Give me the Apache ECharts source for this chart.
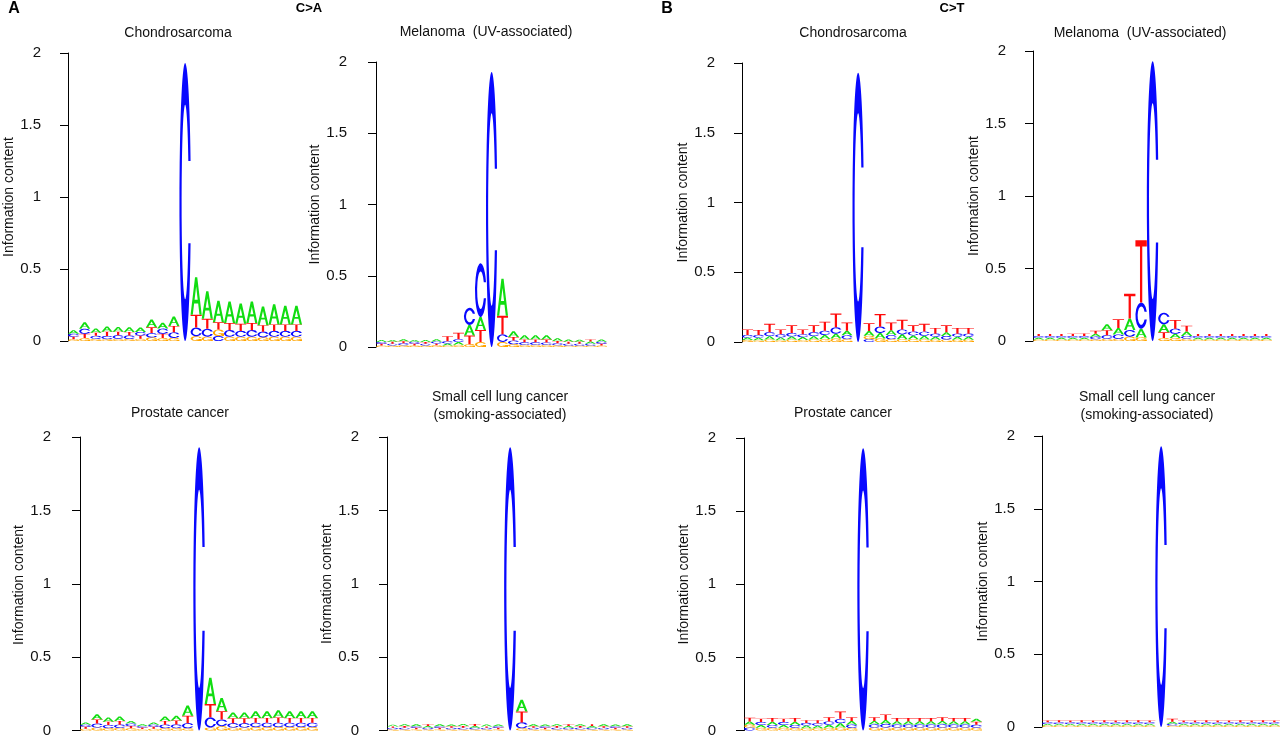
<!DOCTYPE html>
<html>
<head>
<meta charset="UTF-8">
<script src="https://cdn.jsdelivr.net/npm/echarts@6/dist/echarts.min.js"></script>
<style>
  html, body { margin: 0; padding: 0; background: #fff; }
  #main { width: 1280px; height: 738px; }
</style>
</head>
<body>
<div id="main"></div>
<script>
// sequence positions (-10 .. +10, the mutated C is position 11)
var positions = [1, 2, 3, 4, 5, 6, 7, 8, 9, 10, 11, 12, 13, 14, 15, 16, 17, 18, 19, 20, 21];
var yTicks = [0, 0.5, 1, 1.5, 2];

// ---- C>A : Chondrosarcoma (bits per base)
var chondroCA_A = [0.025,0.045,0.028,0.035,0.033,0.032,0.03,0.055,0.04,0.065, 0, 0.26,0.19,0.15,0.15,0.14,0.15,0.13,0.14,0.13,0.13];
var chondroCA_C = [0.02,0.035,0.022,0.022,0.025,0.024,0.026,0.03,0.036,0.038, 1.93, 0.06,0.055,0.035,0.045,0.04,0.045,0.04,0.04,0.04,0.04];
var chondroCA_G = [0.012,0.02,0.014,0.013,0.015,0.014,0.015,0.025,0.02,0.022, 0, 0.033,0.03,0.045,0.03,0.03,0.03,0.025,0.03,0.03,0.03];
var chondroCA_T = [0.018,0.03,0.022,0.03,0.025,0.025,0.022,0.04,0.03,0.045, 0, 0.09,0.07,0.05,0.05,0.05,0.05,0.045,0.045,0.045,0.045];

// ---- C>A : Melanoma
var melanomaCA_A = [0.015,0.014,0.015,0.014,0.015,0.016,0.015,0.02,0.075,0.09, 0, 0.26,0.04,0.03,0.03,0.03,0.02,0.015,0.015,0.015,0.015];
var melanomaCA_C = [0.013,0.012,0.014,0.013,0.012,0.014,0.015,0.02,0.12,0.377, 1.93, 0.054,0.025,0.018,0.018,0.017,0.015,0.013,0.013,0.013,0.014];
var melanomaCA_G = [0.01,0.011,0.012,0.011,0.011,0.012,0.01,0.015,0.02,0.035, 0, 0.035,0.02,0.015,0.015,0.015,0.012,0.01,0.01,0.01,0.01];
var melanomaCA_T = [0.012,0.013,0.014,0.012,0.012,0.013,0.035,0.045,0.06,0.085, 0, 0.13,0.025,0.02,0.02,0.02,0.015,0.014,0.013,0.015,0.013];

// ---- C>A : Prostate cancer
var prostateCA_A = [0.015,0.035,0.028,0.03,0.018,0.012,0.015,0.03,0.032,0.07, 0, 0.18,0.09,0.04,0.04,0.045,0.045,0.05,0.045,0.045,0.045];
var prostateCA_C = [0.014,0.027,0.022,0.022,0.017,0.011,0.014,0.024,0.025,0.035, 1.93, 0.07,0.045,0.03,0.03,0.03,0.03,0.03,0.03,0.03,0.03];
var prostateCA_G = [0.012,0.02,0.016,0.018,0.015,0.01,0.012,0.016,0.016,0.015, 0, 0.02,0.03,0.02,0.02,0.023,0.023,0.023,0.023,0.023,0.023];
var prostateCA_T = [0.013,0.028,0.022,0.025,0.015,0.01,0.013,0.025,0.027,0.05, 0, 0.09,0.056,0.033,0.033,0.033,0.033,0.035,0.033,0.033,0.033];

// ---- C>A : Small cell lung cancer
var sclcCA_A = [0.012,0.012,0.013,0.012,0.013,0.012,0.014,0.012,0.013,0.012, 0, 0.08,0.013,0.012,0.012,0.012,0.013,0.012,0.013,0.012,0.013];
var sclcCA_C = [0.01,0.011,0.011,0.01,0.011,0.01,0.011,0.011,0.01,0.011, 1.93, 0.04,0.01,0.011,0.011,0.01,0.011,0.011,0.01,0.011,0.01];
var sclcCA_G = [0.008,0.008,0.008,0.008,0.008,0.008,0.008,0.008,0.008,0.008, 0, 0.015,0.008,0.008,0.008,0.008,0.008,0.008,0.008,0.008,0.008];
var sclcCA_T = [0.01,0.011,0.01,0.012,0.01,0.011,0.012,0.013,0.01,0.01, 0, 0.075,0.011,0.01,0.011,0.012,0.011,0.012,0.011,0.01,0.011];

// ---- C>T : Chondrosarcoma
var chondroCT_A = [0.018,0.018,0.024,0.02,0.022,0.02,0.024,0.03,0.035,0.032, 0, 0.035,0.04,0.035,0.035,0.027,0.027,0.022,0.027,0.022,0.022];
var chondroCT_C = [0.018,0.02,0.028,0.022,0.025,0.02,0.028,0.03,0.045,0.028, 1.93, 0.02,0.045,0.03,0.035,0.028,0.03,0.022,0.025,0.022,0.022];
var chondroCT_G = [0.014,0.013,0.018,0.013,0.018,0.015,0.018,0.021,0.025,0.02, 0, 0.024,0.025,0.02,0.02,0.02,0.018,0.016,0.018,0.016,0.016];
var chondroCT_T = [0.04,0.035,0.06,0.035,0.055,0.035,0.05,0.065,0.1,0.06, 0, 0.055,0.09,0.055,0.07,0.045,0.055,0.04,0.05,0.04,0.04];

// ---- C>T : Melanoma
var melanomaCT_A = [0.012,0.012,0.012,0.012,0.012,0.02,0.04,0.045,0.08,0.06, 0, 0.055,0.03,0.03,0.012,0.012,0.012,0.012,0.012,0.012,0.012];
var melanomaCT_C = [0.012,0.012,0.012,0.012,0.012,0.018,0.025,0.03,0.046,0.18, 1.93, 0.08,0.035,0.02,0.012,0.012,0.012,0.012,0.012,0.012,0.012];
var melanomaCT_G = [0.01,0.01,0.01,0.01,0.01,0.012,0.015,0.015,0.03,0.025, 0, 0.02,0.02,0.015,0.01,0.01,0.01,0.01,0.01,0.01,0.01];
var melanomaCT_T = [0.015,0.015,0.015,0.016,0.017,0.02,0.035,0.06,0.17,0.43, 0, 0.04,0.06,0.04,0.015,0.015,0.015,0.015,0.015,0.015,0.015];

// ---- C>T : Prostate cancer
var prostateCT_A = [0.022,0.02,0.022,0.02,0.022,0.018,0.017,0.022,0.03,0.025, 0, 0.023,0.027,0.022,0.022,0.022,0.022,0.023,0.022,0.022,0.021];
var prostateCT_C = [0.02,0.02,0.02,0.02,0.02,0.018,0.017,0.022,0.03,0.022, 1.93, 0.022,0.025,0.021,0.021,0.021,0.021,0.022,0.021,0.021,0.02];
var prostateCT_G = [0.02,0.018,0.018,0.018,0.018,0.016,0.016,0.018,0.02,0.018, 0, 0.02,0.02,0.02,0.02,0.02,0.02,0.02,0.02,0.02,0.019];
var prostateCT_T = [0.025,0.022,0.025,0.022,0.025,0.018,0.02,0.028,0.05,0.025, 0, 0.025,0.038,0.022,0.022,0.022,0.022,0.025,0.022,0.022,0.02];

// ---- C>T : Small cell lung cancer
var sclcCT_A = [0.011,0.011,0.011,0.011,0.011,0.011,0.011,0.011,0.011,0.011, 0, 0.014,0.011,0.011,0.011,0.011,0.011,0.011,0.011,0.011,0.011];
var sclcCT_C = [0.011,0.011,0.011,0.011,0.011,0.011,0.011,0.011,0.011,0.011, 1.93, 0.012,0.011,0.011,0.011,0.011,0.011,0.011,0.011,0.011,0.011];
var sclcCT_G = [0.01,0.01,0.01,0.01,0.01,0.01,0.01,0.01,0.01,0.01, 0, 0.01,0.01,0.01,0.01,0.01,0.01,0.01,0.01,0.01,0.01];
var sclcCT_T = [0.013,0.014,0.013,0.014,0.013,0.015,0.013,0.014,0.015,0.013, 0, 0.02,0.013,0.013,0.014,0.013,0.013,0.015,0.013,0.014,0.013];

// glyph outlines (100x100 box), shapes follow the seqLogo letters
var GLYPHS = {
  A: 'M0,100 L40,0 L60,0 L100,100 L80,100 L68,70 L32,70 L20,100 Z M36,60 L64,60 L50,25 Z',
  C: 'M97.76,35.2 A50,50 0 1 0 97.76,64.8 L78.1,64.8 A31,35 0 1 1 78.1,35.2 Z',
  G: 'M97.76,35.2 A50,50 0 1 0 97.76,64.8 L78.1,64.8 A31,35 0 1 1 78.1,35.2 Z M97.8,60 L50,60 L50,70 L77.8,70 L77.8,100 L97.8,100 Z',
  T: 'M0,0 L100,0 L100,10 L60,10 L60,100 L40,100 L40,10 L0,10 Z'
};
var COLORS = { A: '#11dd11', C: '#0808ff', G: '#ffa500', T: '#ff0a0a' };
var FONT = '"Liberation Sans", Arial, Helvetica, sans-serif';

// panel layout: [axis x, y of 2, y of 0, first letter x, last letter x]
var panels = [
  { title: 'Chondrosarcoma', tx: 178, ty: 33, A: chondroCA_A, C: chondroCA_C, G: chondroCA_G, T: chondroCA_T, box: [57, 53, 341, 68, 302] },
  { title: 'Melanoma  (UV-associated)', tx: 486, ty: 32, A: melanomaCA_A, C: melanomaCA_C, G: melanomaCA_G, T: melanomaCA_T, box: [363, 62, 347, 376, 607] },
  { title: 'Chondrosarcoma', tx: 853, ty: 33, A: chondroCT_A, C: chondroCT_C, G: chondroCT_G, T: chondroCT_T, box: [731, 63, 342, 742, 974] },
  { title: 'Melanoma  (UV-associated)', tx: 1140, ty: 33, A: melanomaCT_A, C: melanomaCT_C, G: melanomaCT_G, T: melanomaCT_T, box: [1022, 51, 341, 1033, 1272] },
  { title: 'Prostate cancer', tx: 180, ty: 413, A: prostateCA_A, C: prostateCA_C, G: prostateCA_G, T: prostateCA_T, box: [67, 437, 733, 80, 318] },
  { title: 'Small cell lung cancer\n(smoking-associated)', tx: 500, ty: 406, A: sclcCA_A, C: sclcCA_C, G: sclcCA_G, T: sclcCA_T, box: [375, 437, 731, 387, 633] },
  { title: 'Prostate cancer', tx: 843, ty: 413, A: prostateCT_A, C: prostateCT_C, G: prostateCT_G, T: prostateCT_T, box: [732, 438, 731, 744, 982] },
  { title: 'Small cell lung cancer\n(smoking-associated)', tx: 1147, ty: 406, A: sclcCT_A, C: sclcCT_C, G: sclcCT_G, T: sclcCT_T, box: [1031, 436, 727, 1042, 1280] }
];

// draw one stacked column, smallest letter at the bottom
function renderLogo(params, api) {
  var pos = api.value(0);
  var hts = [['A', api.value(1)], ['C', api.value(2)], ['G', api.value(3)], ['T', api.value(4)]];
  hts.sort(function(a, b) { return a[1] - b[1]; });
  var xl = api.coord([pos - 1, 0])[0];
  var xr = api.coord([pos, 0])[0];
  var children = [];
  var base = 0;
  hts.forEach(function(h) {
    if (h[1] <= 0) return;
    var yb = api.coord([pos, base])[1];
    var yt = api.coord([pos, base + h[1]])[1];
    base += h[1];
    children.push({
      type: 'path',
      shape: { pathData: GLYPHS[h[0]], x: xl, y: yt, width: xr - xl, height: Math.max(yb - yt, 0.6), layout: 'cover' },
      style: { fill: COLORS[h[0]] }
    });
  });
  return { type: 'group', children: children };
}

var grids = [], xAxes = [], yAxes = [], series = [], graphics = [];

panels.forEach(function(p, i) {
  var ax = p.box[0], y2 = p.box[1], y0 = p.box[2], x1 = p.box[3], x2 = p.box[4];
  var w = (x2 - x1) / positions.length;
  grids.push({ left: ax, top: y2, width: x2 - ax, height: y0 - y2 });
  xAxes.push({ type: 'value', gridIndex: i, min: -(x1 - ax) / w, max: positions.length, show: false });
  yAxes.push({
    type: 'value', gridIndex: i, min: yTicks[0], max: yTicks[yTicks.length - 1], interval: 0.5,
    axisLine: { show: true, lineStyle: { color: '#000', width: 1 } },
    axisTick: { show: true, length: 8, lineStyle: { color: '#000' } },
    axisLabel: { color: '#111', fontSize: 15, fontFamily: FONT, margin: 16 },
    splitLine: { show: false }
  });
  var data = positions.map(function(pos, k) {
    return [pos, p.A[k], p.C[k], p.G[k], p.T[k]];
  });
  series.push({
    type: 'custom', xAxisIndex: i, yAxisIndex: i, data: data,
    renderItem: renderLogo, encode: { x: 0, y: [1, 2, 3, 4] }, clip: false, silent: true
  });
  // title
  graphics.push({
    type: 'text', x: p.tx, y: p.ty,
    style: { text: p.title, fill: '#111', font: '14px ' + FONT, textAlign: 'center', align: 'center',
             textVerticalAlign: 'middle', verticalAlign: 'middle', lineHeight: 18 }
  });
  // y axis name
  graphics.push({
    type: 'text', x: ax - 48, y: (y2 + y0) / 2, rotation: Math.PI / 2,
    style: { text: 'Information content', fill: '#111', font: '14px ' + FONT, textAlign: 'center', align: 'center',
             textVerticalAlign: 'middle', verticalAlign: 'middle' }
  });
});

// panel letters and mutation type
[['A', 14, 9, 16], ['C>A', 309, 8, 13], ['B', 667, 9, 16], ['C>T', 952, 8, 13]].forEach(function(t) {
  graphics.push({
    type: 'text', x: t[1], y: t[2],
    style: { text: t[0], fill: '#000', font: 'bold ' + t[3] + 'px ' + FONT, textAlign: 'center', align: 'center',
             textVerticalAlign: 'middle', verticalAlign: 'middle' }
  });
});

var chart = echarts.init(document.getElementById('main'));
chart.setOption({
  backgroundColor: '#fff',
  animation: false,
  grid: grids,
  xAxis: xAxes,
  yAxis: yAxes,
  series: series,
  graphic: graphics
});
</script>
</body>
</html>
